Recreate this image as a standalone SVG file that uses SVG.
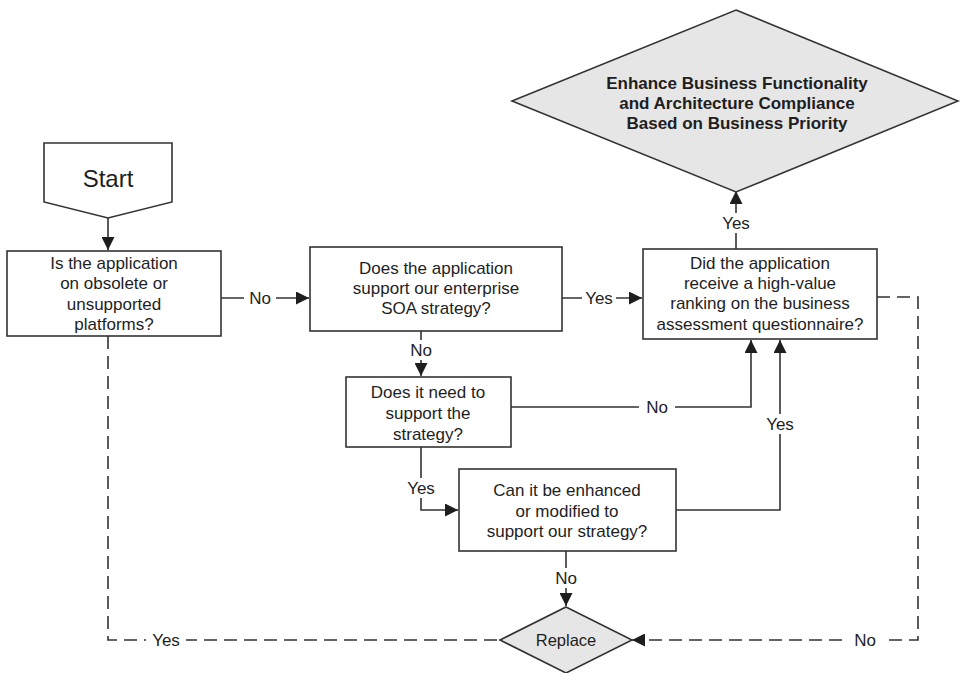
<svg xmlns="http://www.w3.org/2000/svg" width="960" height="673" viewBox="0 0 960 673">
  <style>
    .box { fill: #ffffff; stroke: #333333; stroke-width: 1.6; }
    .dia { fill: #e6e6e6; stroke: #333333; stroke-width: 1.6; }
    .t { font-family: "Liberation Sans", Arial, sans-serif; font-size: 17px; fill: #1e1e1e; text-anchor: middle; dominant-baseline: central; }
    .tb { font-family: "Liberation Sans", Arial, sans-serif; font-size: 17px; font-weight: bold; fill: #1e1e1e; text-anchor: middle; dominant-baseline: central; }
    .ln { fill: none; stroke: #333333; stroke-width: 1.6; }
    .dash { stroke-dasharray: 13 7; }
    .lbl { fill: #ffffff; stroke: none; }
  </style>
  <defs>
    <marker id="arrow" viewBox="0 0 12 12" refX="12" refY="6" markerWidth="13" markerHeight="13" markerUnits="userSpaceOnUse" orient="auto">
      <path d="M0,0 L12,6 L0,12 Z" fill="#1e1e1e"/>
    </marker>
  </defs>

  <rect width="960" height="673" fill="#ffffff"/>

  <!-- connectors -->
  <g id="connectors">
    <!-- Start to first question -->
    <path class="ln" d="M108,218 V250" marker-end="url(#arrow)"/>
    <!-- obsolete? No -->
    <path class="ln" d="M221,298 H309" marker-end="url(#arrow)"/>
    <rect class="lbl" x="244" y="288" width="32" height="20"/>
    <text class="t" x="260" y="298">No</text>
    <!-- SOA? Yes -->
    <path class="ln" d="M562,298 H642" marker-end="url(#arrow)"/>
    <rect class="lbl" x="582" y="288" width="34" height="20"/>
    <text class="t" x="599" y="298">Yes</text>
    <!-- high-value? Yes -->
    <path class="ln" d="M736,249 V191" marker-end="url(#arrow)"/>
    <rect class="lbl" x="720" y="213" width="32" height="20"/>
    <text class="t" x="736" y="223">Yes</text>
    <!-- SOA? No -->
    <path class="ln" d="M421,331 V376" marker-end="url(#arrow)"/>
    <rect class="lbl" x="407" y="340" width="28" height="20"/>
    <text class="t" x="421" y="350">No</text>
    <!-- need to support? No -->
    <path class="ln" d="M511,407 H751 V340" marker-end="url(#arrow)"/>
    <rect class="lbl" x="639" y="397" width="36" height="20"/>
    <text class="t" x="657" y="407">No</text>
    <!-- need to support? Yes -->
    <path class="ln" d="M421,447 V510 H458" marker-end="url(#arrow)"/>
    <rect class="lbl" x="404" y="478" width="34" height="20"/>
    <text class="t" x="421" y="488">Yes</text>
    <!-- enhanced? Yes -->
    <path class="ln" d="M676,510 H780 V340" marker-end="url(#arrow)"/>
    <rect class="lbl" x="763" y="414" width="34" height="20"/>
    <text class="t" x="780" y="424">Yes</text>
    <!-- enhanced? No -->
    <path class="ln" d="M566,551 V606" marker-end="url(#arrow)"/>
    <rect class="lbl" x="552" y="568" width="28" height="20"/>
    <text class="t" x="566" y="578">No</text>
    <!-- obsolete? Yes (dashed) -->
    <path class="ln dash" d="M108,336 V640 H500"/>
    <rect class="lbl" x="146" y="630" width="40" height="20"/>
    <text class="t" x="166" y="640">Yes</text>
    <!-- high-value? No (dashed) -->
    <path class="ln dash" d="M877,297 H918 V640 H632" marker-end="url(#arrow)"/>
    <rect class="lbl" x="847" y="630" width="36" height="20"/>
    <text class="t" x="865" y="640">No</text>
  </g>

  <!-- nodes -->
  <g id="start">
    <path class="box" d="M44,143 H172 V202 L108,218 L44,202 Z"/>
    <text class="t" x="108" y="178" style="font-size:24px">Start</text>
  </g>

  <g id="q-obsolete">
    <rect class="box" x="7" y="251" width="214" height="85"/>
    <text class="t" x="114" y="263">Is the application</text>
    <text class="t" x="114" y="283.5">on obsolete or</text>
    <text class="t" x="114" y="304">unsupported</text>
    <text class="t" x="114" y="324.5">platforms?</text>
  </g>

  <g id="q-soa">
    <rect class="box" x="310" y="247" width="252" height="84"/>
    <text class="t" x="436" y="268">Does the application</text>
    <text class="t" x="436" y="288">support our enterprise</text>
    <text class="t" x="436" y="308">SOA strategy?</text>
  </g>

  <g id="q-highvalue">
    <rect class="box" x="643" y="249" width="234" height="90"/>
    <text class="t" x="760" y="263">Did the application</text>
    <text class="t" x="760" y="283.5">receive a high-value</text>
    <text class="t" x="760" y="303.5">ranking on the business</text>
    <text class="t" x="760" y="324">assessment questionnaire?</text>
  </g>

  <g id="enhance">
    <polygon class="dia" points="736,10 958,101 736,192 512,101"/>
    <text class="tb" x="737" y="83">Enhance Business Functionality</text>
    <text class="tb" x="737" y="103">and Architecture Compliance</text>
    <text class="tb" x="737" y="123">Based on Business Priority</text>
  </g>

  <g id="q-need">
    <rect class="box" x="346" y="377" width="165" height="70"/>
    <text class="t" x="428" y="392">Does it need to</text>
    <text class="t" x="428" y="413">support the</text>
    <text class="t" x="428" y="434">strategy?</text>
  </g>

  <g id="q-enhance">
    <rect class="box" x="459" y="469" width="217" height="82"/>
    <text class="t" x="567" y="490">Can it be enhanced</text>
    <text class="t" x="567" y="511">or modified to</text>
    <text class="t" x="567" y="531">support our strategy?</text>
  </g>

  <g id="replace">
    <polygon class="dia" points="566,607 632,640 566,673 500,640"/>
    <text class="t" x="566" y="640" style="font-size:16.5px">Replace</text>
  </g>
</svg>
